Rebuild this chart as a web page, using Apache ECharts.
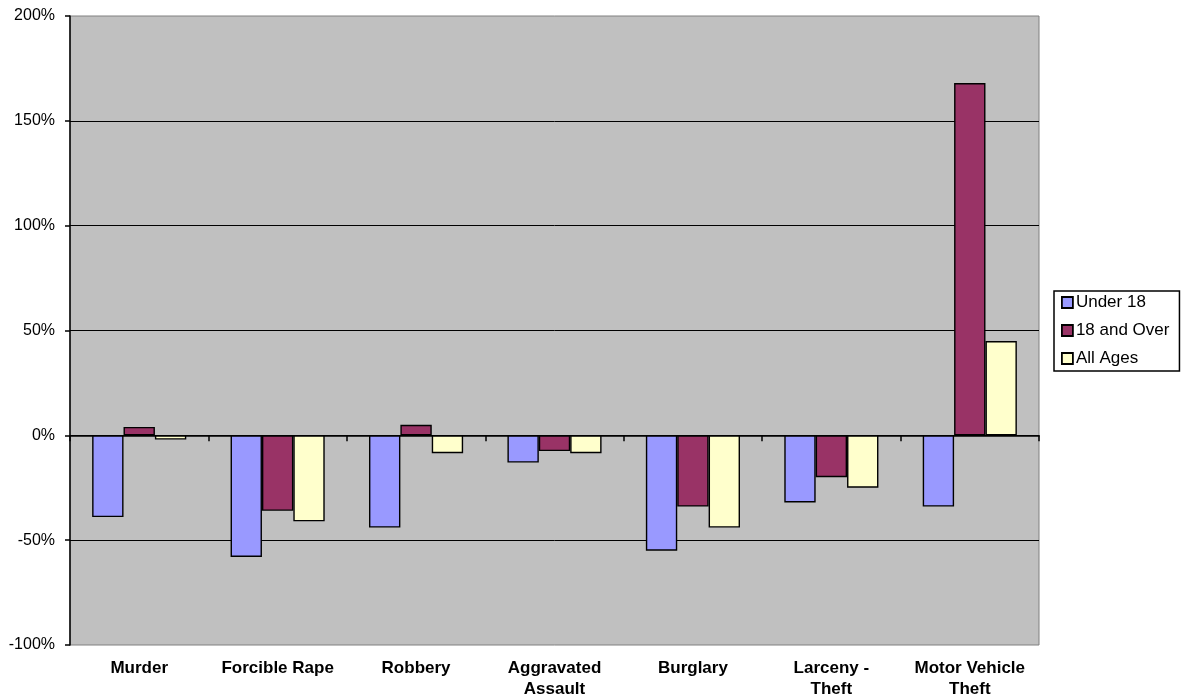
<!DOCTYPE html>
<html>
<head>
<meta charset="utf-8">
<script src="https://cdn.jsdelivr.net/npm/echarts@6/dist/echarts.min.js"></script>
<style>
  html, body { margin: 0; padding: 0; background: #fff; }
  #chart { width: 1183px; height: 696px; }
</style>
</head>
<body>
<div id="chart"></div>
<script>
// Percent change in arrests by offense and age group
const categories = ['Murder', 'Forcible Rape', 'Robbery', 'Aggravated\nAssault', 'Burglary', 'Larceny -\nTheft', 'Motor Vehicle\nTheft'];
const seriesNames = ['Under 18', '18 and Over', 'All Ages'];
const under18 = [-39, -58, -44, -13, -55, -32, -34];
const over18 = [4, -36, 5, -7.5, -34, -20, 168];
const allAges = [-2, -41, -8.5, -8.5, -44, -25, 45];
const seriesColors = ['#9999FF', '#993366', '#FFFFCC'];

const chart = echarts.init(document.getElementById('chart'));
const font = 'Arial, "Liberation Sans", sans-serif';

const makeSeries = (name, data, color) => ({
  name: name,
  type: 'bar',
  xAxisIndex: 0,
  data: data,
  barGap: '0%',
  barCategoryGap: '32%',
  itemStyle: { color: color, borderColor: '#000', borderWidth: 1.4 }
});

chart.setOption({
  backgroundColor: '#fff',
  animation: false,
  grid: {
    left: 70, right: 144, top: 16, bottom: 51,
    outerBoundsMode: 'none',
    show: true, backgroundColor: '#C0C0C0', borderColor: '#808080', borderWidth: 1
  },
  legend: {
    orient: 'vertical',
    left: 1054, top: 291,
    data: seriesNames,
    icon: 'rect',
    itemWidth: 11, itemHeight: 11, itemGap: 11,
    padding: [3, 10, 4, 7],
    borderColor: '#000', borderWidth: 1.5,
    backgroundColor: '#fff',
    itemStyle: { borderColor: '#000', borderWidth: 1.8 },
    textStyle: { fontFamily: font, fontSize: 17, color: '#000', padding: [0, 0, 0, -2] }
  },
  xAxis: [
    {
      // category labels along the bottom edge
      type: 'category',
      data: categories,
      position: 'bottom',
      axisLine: { show: false, onZero: false },
      axisTick: { show: false },
      axisLabel: {
        fontFamily: font, fontSize: 17, fontWeight: 'bold', color: '#000',
        margin: 13, lineHeight: 21, interval: 0
      }
    },
    {
      // baseline with category ticks through 0%
      type: 'category',
      data: categories,
      position: 'bottom',
      axisLine: { show: true, onZero: true, onZeroAxisIndex: 0, lineStyle: { color: '#000', width: 1.5 } },
      axisTick: { show: true, inside: false, length: 6, lineStyle: { color: '#000', width: 1.5 } },
      axisLabel: { show: false }
    }
  ],
  yAxis: {
    type: 'value',
    min: -100, max: 200, interval: 50,
    axisLine: { show: true, lineStyle: { color: '#000', width: 1.5 } },
    axisTick: { show: true, length: 5, lineStyle: { color: '#000', width: 1.5 } },
    axisLabel: {
      formatter: '{value}%', fontFamily: font, fontSize: 16, color: '#000', margin: 15
    },
    splitLine: {
      show: true, showMinLine: false, showMaxLine: false,
      lineStyle: { color: '#000', width: 1 }
    }
  },
  series: [
    makeSeries(seriesNames[0], under18, seriesColors[0]),
    makeSeries(seriesNames[1], over18, seriesColors[1]),
    makeSeries(seriesNames[2], allAges, seriesColors[2])
  ]
});
</script>
</body>
</html>
